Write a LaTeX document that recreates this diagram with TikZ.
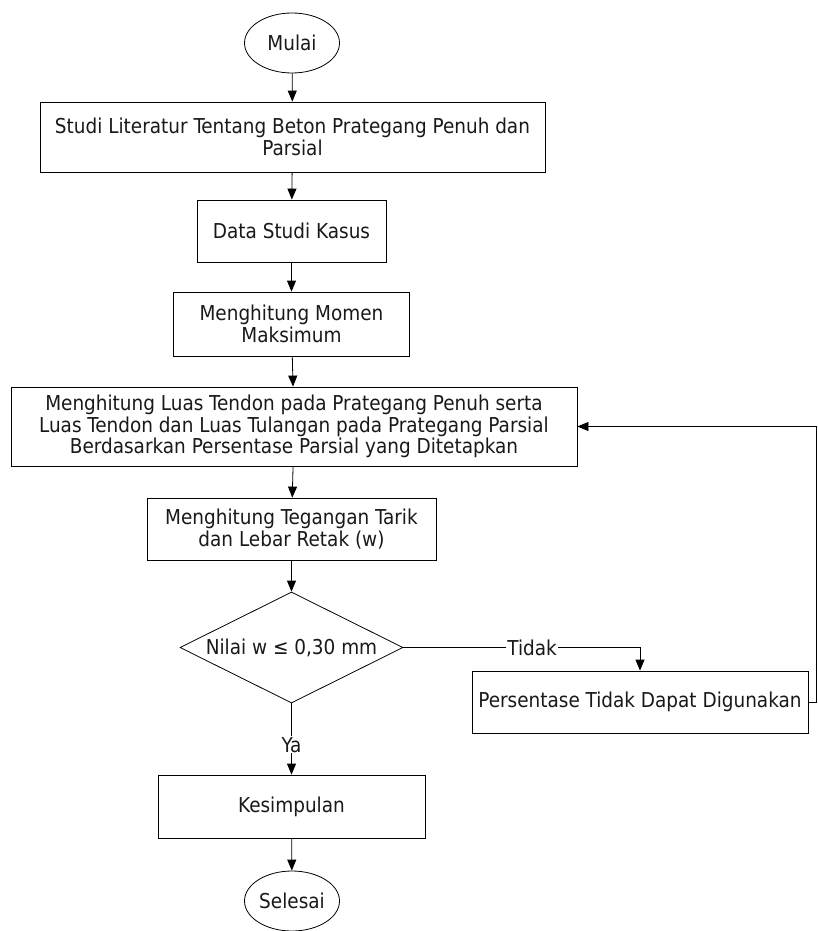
\documentclass[tikz,border=0pt]{standalone}
\usepackage{fontspec}
\setmainfont{DejaVu Sans Condensed}
\usetikzlibrary{shapes.geometric,arrows.meta}
\begin{document}
\begin{tikzpicture}[x=1pt,y=-1pt,
  every node/.style={font=\fontsize{20.5}{21.5}\selectfont, text=black!90},
  proc/.style={draw, thick, rectangle, align=center, inner sep=2pt},
  term/.style={draw, thick, ellipse, minimum width=95, minimum height=60, inner sep=0pt},
  cond/.style={draw, thick, diamond, aspect=2, minimum width=223, minimum height=111, inner sep=0pt},
  lbl/.style={fill=white, inner sep=1pt},
  arr/.style={thick, -{Triangle[length=11pt,width=9pt]}}]
  \useasboundingbox (0,0) rectangle (817,931);
  % Start and end
  \node[term] (mulai) at (292,43) {Mulai};
  \node[term] (selesai) at (292,901) {Selesai};
  % Process boxes
  \node[proc, minimum width=505, minimum height=70] (studi) at (292.5,137)
    {Studi Literatur Tentang Beton Prategang Penuh dan\\Parsial};
  \node[proc, minimum width=189, minimum height=62] (data) at (291.5,231) {Data Studi Kasus};
  \node[proc, minimum width=236, minimum height=64] (momen) at (291.5,324)
    {Menghitung Momen\\Maksimum};
  \node[proc, minimum width=566, minimum height=79] (luas) at (294,426.5)
    {Menghitung Luas Tendon pada Prategang Penuh serta\\
     Luas Tendon dan Luas Tulangan pada Prategang Parsial\\
     Berdasarkan Persentase Parsial yang Ditetapkan};
  \node[proc, minimum width=289, minimum height=62] (tarik) at (291.5,529)
    {Menghitung Tegangan Tarik\\dan Lebar Retak (w)};
  \node[cond] (cek) at (291.5,647.5) {Nilai w ≤ 0,30 mm};
  \node[proc, minimum width=336, minimum height=62] (gagal) at (640,702)
    {Persentase Tidak Dapat Digunakan};
  \node[proc, minimum width=267, minimum height=63] (simpul) at (291.5,806.5) {Kesimpulan};
  % Main flow
  \foreach \a/\b in {mulai/studi, studi/data, data/momen, momen/luas, luas/tarik, tarik/cek, simpul/selesai} {
    \draw[arr] (\a) -- (\b);
  }
  \draw[arr] (cek.south) -- node[lbl, pos=0.58] {Ya} (simpul.north);
  \draw[arr] (cek.east) -| node[lbl, pos=0.272] {Tidak} (gagal.north);
  % Feedback line
  \coordinate (balik) at (816,702);
  \draw[arr] (gagal.east) -- (balik) |- (luas.east);
\end{tikzpicture}
\end{document}
